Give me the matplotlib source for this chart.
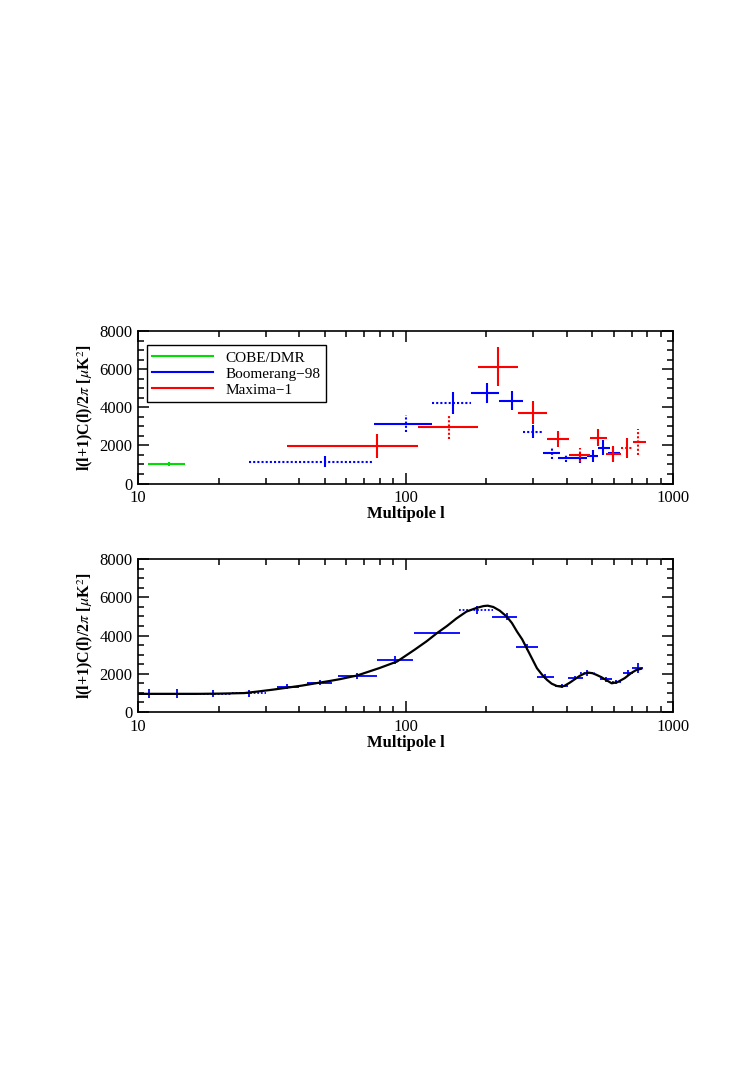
import matplotlib
matplotlib.use("Agg")
import matplotlib.pyplot as plt
from matplotlib.ticker import FixedLocator, NullFormatter

plt.rcParams['font.family'] = ['Liberation Serif', 'DejaVu Serif']
plt.rcParams['mathtext.fontset'] = 'stix'

# ---- top panel data: measured band powers ----
cobe_l = [13.1]
cobe_lo = [10.9]
cobe_hi = [15.0]
cobe_v = [1030]
cobe_err = [120]

boom_l = [50, 100, 150, 202, 250, 300, 353, 398, 450, 502, 548, 597]
boom_lo = [26, 76, 126, 176, 224, 275, 327, 372, 430, 477, 523, 572]
boom_hi = [76, 126, 176, 224, 275, 327, 378, 430, 477, 525, 582, 634]
boom_v = [1130, 3130, 4230, 4760, 4340, 2710, 1600, 1340, 1340, 1450, 1870, 1600]
boom_err = [290, 450, 580, 530, 500, 340, 310, 210, 250, 320, 390, 300]
boom_hs = "dsdssdssssss"   # s = solid, d = dotted
boom_vs = "sdssssddssss"

max_l = [78, 146, 222, 300, 372, 450, 525, 597, 673, 740]
max_lo = [36, 111, 187, 263, 338, 408, 489, 563, 640, 708]
max_hi = [111, 187, 263, 338, 408, 489, 566, 637, 708, 792]
max_v = [1970, 2970, 6130, 3710, 2330, 1500, 2400, 1550, 1870, 2180]
max_err = [640, 630, 1030, 600, 420, 370, 450, 400, 530, 660]
max_hs = "ssssssssds"
max_vs = "sdsssdsssd"

# ---- bottom panel: model curve + simulated bins ----
curve_l = [10, 13, 17, 20, 25, 28, 32, 36, 41, 47, 52, 57, 66, 80, 93, 108, 120, 131,
           143, 155, 169, 185, 196, 203, 213, 225, 239, 250, 261, 273, 284, 297, 310,
           324, 338, 352, 368, 380, 392, 412, 430, 448, 465, 481, 500, 518, 540, 566,
           590, 620, 660, 700, 730, 760]
curve_v = [950, 950, 950, 960, 990, 1070, 1170, 1270, 1380, 1520, 1620, 1720, 1910, 2300,
           2640, 3250, 3700, 4120, 4500, 4890, 5250, 5450, 5540, 5560, 5490, 5300, 4990,
           4650, 4210, 3800, 3330, 2800, 2290, 1950, 1680, 1480, 1360, 1330, 1360, 1540,
           1720, 1890, 2000, 2060, 2030, 1940, 1820, 1650, 1500, 1560, 1770, 2050, 2200,
           2260]

sim_l = [11, 14, 19, 26, 36, 48, 66, 91, 134, 185, 239, 284, 333, 383, 430, 475, 560, 610, 680, 740]
sim_lo = [10, 12.5, 16.5, 22.5, 33, 43, 56, 78, 108, 159, 210, 258, 310, 362, 405, 450, 535, 590, 650, 705]
sim_hi = [12.5, 16.5, 22.5, 30, 40, 53, 78, 107, 160, 212, 261, 314, 358, 405, 462, 512, 590, 640, 710, 770]
sim_v = [960, 960, 960, 990, 1330, 1540, 1890, 2720, 4120, 5340, 4990, 3390, 1850, 1360,
         1770, 2030, 1700, 1560, 2030, 2290]
sim_err = [220, 220, 200, 180, 150, 150, 170, 200, 60, 220, 200, 150, 150, 120, 100, 150,
           120, 120, 150, 250]
sim_hs = "ssddsssssdsssssdsdss"

STY = {"s": "-", "d": (0, (1, 1))}
GREEN, BLUE, RED = "#00dd00", "#0000ff", "#ff0000"


def crosses(ax, l, v, lo, hi, err, hs, vs, color, lw=1.5):
    for i in range(len(l)):
        ax.plot([lo[i], hi[i]], [v[i], v[i]], color=color, lw=lw, ls=STY[hs[i]],
                solid_capstyle="butt")
        ax.plot([l[i], l[i]], [v[i] - err[i], v[i] + err[i]], color=color, lw=lw,
                ls=STY[vs[i]], solid_capstyle="butt")


def style_axes(ax):
    ax.set_xscale("log")
    ax.set_xlim(10, 1000)
    ax.set_ylim(0, 8000)
    ax.xaxis.set_major_locator(FixedLocator([10, 100, 1000]))
    ax.set_xticklabels(["10", "100", "1000"])
    ax.xaxis.set_minor_locator(FixedLocator([20, 30, 40, 50, 60, 70, 80, 90,
                                             200, 300, 400, 500, 600, 700, 800, 900]))
    ax.xaxis.set_minor_formatter(NullFormatter())
    ax.set_yticks([0, 2000, 4000, 6000, 8000])
    ax.set_yticks(range(0, 8001, 500), minor=True)
    ax.tick_params(which="both", direction="in", top=True, right=True,
                   labelsize=12, width=1.1)
    ax.tick_params(which="major", length=8)
    ax.tick_params(which="minor", length=4)
    ax.tick_params(axis="x", pad=5)
    ax.tick_params(axis="y", pad=4)
    for sp in ax.spines.values():
        sp.set_linewidth(1.2)
    ax.set_xlabel("Multipole l", fontsize=12, fontweight="bold", labelpad=0)
    ax.set_ylabel(r"l(l+1)C(l)/2$\pi$ [$\mu$K$^2$]", fontsize=11.5,
                  fontweight="bold", labelpad=3)


fig = plt.figure(figsize=(7.54, 10.67), dpi=100)
ax1 = fig.add_axes([138 / 754, 1 - 483.5 / 1067, 535 / 754, 152.5 / 1067])
ax2 = fig.add_axes([138 / 754, 1 - 712 / 1067, 535 / 754, 153 / 1067])

crosses(ax1, cobe_l, cobe_v, cobe_lo, cobe_hi, cobe_err, "s", "s", GREEN)
crosses(ax1, boom_l, boom_v, boom_lo, boom_hi, boom_err, boom_hs, boom_vs, BLUE)
crosses(ax1, max_l, max_v, max_lo, max_hi, max_err, max_hs, max_vs, RED)

h1, = ax1.plot([], [], color=GREEN, lw=1.5, label="COBE/DMR")
h2, = ax1.plot([], [], color=BLUE, lw=1.5, label="Boomerang\u221298")
h3, = ax1.plot([], [], color=RED, lw=1.5, label="Maxima\u22121")
leg = ax1.legend(handles=[h1, h2, h3], loc="upper left", bbox_to_anchor=(0.016, 0.905),
                 fancybox=False, framealpha=1, edgecolor="black", fontsize=11,
                 handlelength=4.0, handletextpad=0.8, borderpad=0.35, labelspacing=0.15,
                 borderaxespad=0)
leg.get_frame().set_linewidth(1.0)
style_axes(ax1)
ax1.spines["top"].set_linestyle((0, (1, 1)))

crosses(ax2, sim_l, sim_v, sim_lo, sim_hi, sim_err, sim_hs, "s" * len(sim_l), BLUE, lw=1.3)
ax2.plot(curve_l, curve_v, color="black", lw=1.6)
style_axes(ax2)

fig.savefig("out.png", dpi=100)
